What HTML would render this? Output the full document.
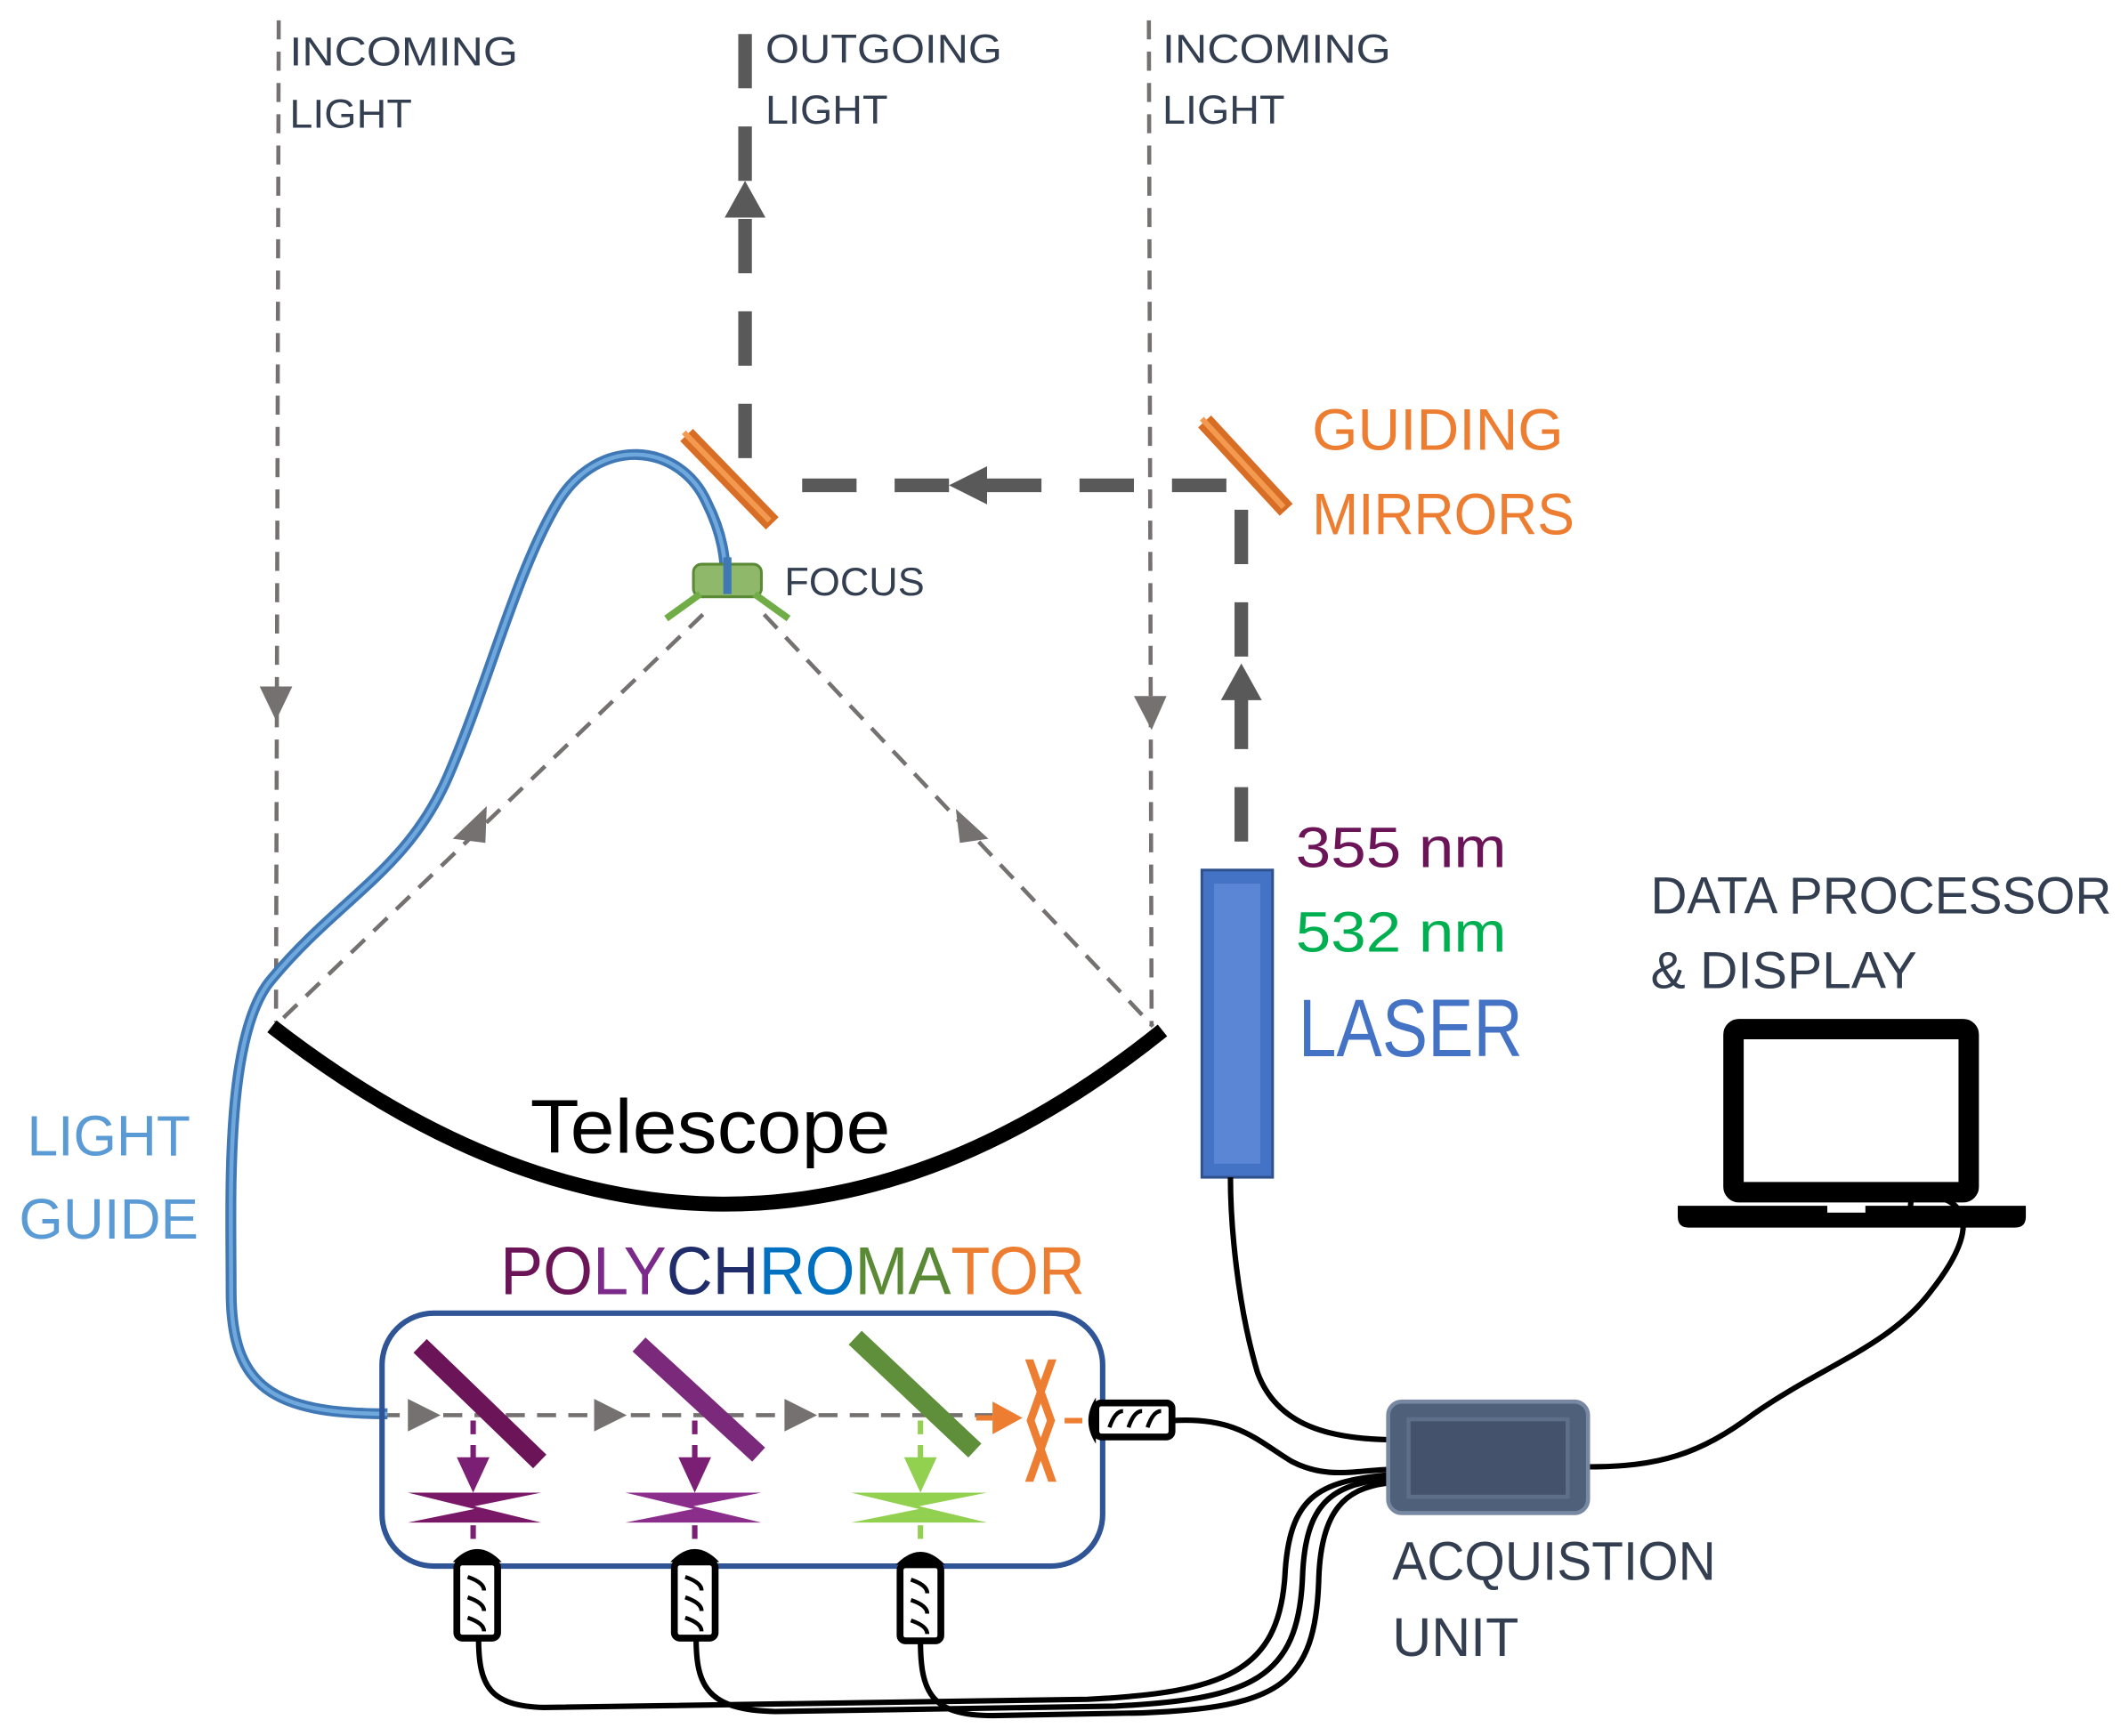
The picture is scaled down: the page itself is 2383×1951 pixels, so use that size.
<!DOCTYPE html>
<html><head><meta charset="utf-8"><style>html,body{margin:0;padding:0;background:#fff}svg{display:block}</style></head>
<body>
<svg width="2383" height="1951" viewBox="0 0 1560 1277" preserveAspectRatio="none" xmlns="http://www.w3.org/2000/svg" font-family="'Liberation Sans', sans-serif">
<!-- incoming lights -->
<g stroke="#767171" stroke-width="3" stroke-dasharray="14,9" fill="none">
<line x1="205" y1="15" x2="203" y2="752"/>
<line x1="845" y1="15" x2="847" y2="755"/>
<line x1="517" y1="452" x2="205" y2="752"/>
<line x1="562" y1="452" x2="848" y2="755"/>
<line x1="280" y1="1041" x2="730" y2="1041"/>
</g>
<g fill="#767171">
<polygon points="191,505 215,505 203,530"/>
<polygon points="834,512 858,512 847,537"/>
<polygon points="333,617 358,593 357,620"/>
<polygon points="703,595 727,617 706,620"/>
<polygon points="300,1029 300,1053 324,1041"/>
<polygon points="437,1029 437,1053 461,1041"/>
<polygon points="577,1029 577,1053 601,1041"/>
</g>
<!-- thick laser path -->
<g stroke="#595959" stroke-width="10" stroke-dasharray="40,28" fill="none">
<line x1="548" y1="25" x2="548" y2="355"/>
<line x1="590" y1="357" x2="905" y2="357"/>
<line x1="913" y1="375" x2="913" y2="640"/>
</g>
<g fill="#595959">
<polygon points="533,160 563,160 548,133"/>
<polygon points="698,357 726,343 726,371"/>
<polygon points="898,515 928,515 913,488"/>
</g>
<!-- mirrors -->
<g stroke="#d86e25" stroke-width="13" stroke-linecap="butt">
<line x1="505" y1="320" x2="568" y2="385"/>
<line x1="886" y1="310" x2="946" y2="375"/>
</g>
<g stroke="#f49a50" stroke-width="4"><line x1="503" y1="318" x2="566" y2="383"/><line x1="884" y1="308" x2="944" y2="373"/></g>
<!-- light guide -->
<path d="M285,1040 C200,1040 170,1020 170,950 C170,880 165,760 200,720 C250,660 300,640 330,570 C360,500 380,420 410,370 C440,320 500,325 520,370 C535,400 533,420 535,437" stroke="#3f78b5" stroke-width="8" fill="none"/>
<path d="M285,1040 C200,1040 170,1020 170,950 C170,880 165,760 200,720 C250,660 300,640 330,570 C360,500 380,420 410,370 C440,320 500,325 520,370 C535,400 533,420 535,437" stroke="#6fa8dc" stroke-width="3" fill="none"/>
<!-- focus lens -->
<rect x="510" y="415" width="50" height="24" rx="6" fill="#8fb86a" stroke="#5a8a35" stroke-width="2"/>
<line x1="535" y1="410" x2="535" y2="437" stroke="#3f78b5" stroke-width="6"/>
<g stroke="#70ad47" stroke-width="5"><line x1="490" y1="455" x2="515" y2="437"/><line x1="555" y1="437" x2="580" y2="455"/></g>
<!-- telescope -->
<path d="M200,755 Q535,1015 855,758" stroke="#000" stroke-width="11" fill="none"/>
<!-- laser -->
<rect x="884" y="640" width="52" height="226" fill="#4472c4" stroke="#2f528f" stroke-width="2"/>
<rect x="893" y="650" width="34" height="206" fill="#5b86d6"/>
<!-- polychromator box -->
<rect x="281" y="966" width="530" height="186" rx="38" fill="none" stroke="#2f5597" stroke-width="4"/>
<g stroke-width="14" stroke-linecap="butt">
<line x1="309" y1="990" x2="397" y2="1075" stroke="#6b1458"/>
<line x1="470" y1="989" x2="558" y2="1070" stroke="#7b2a7b"/>
<line x1="629" y1="984" x2="717" y2="1067" stroke="#5f8f3a"/>
</g>
<g stroke-width="4" stroke-dasharray="10,8">
<line x1="348" y1="1045" x2="348" y2="1075" stroke="#7a1f73"/>
<line x1="511" y1="1045" x2="511" y2="1075" stroke="#7a1f73"/>
<line x1="677" y1="1045" x2="677" y2="1075" stroke="#92d050"/>
<line x1="348" y1="1122" x2="348" y2="1140" stroke="#7a1f73"/>
<line x1="511" y1="1122" x2="511" y2="1140" stroke="#7a1f73"/>
<line x1="677" y1="1122" x2="677" y2="1140" stroke="#92d050"/>
</g>
<polygon points="336,1072 360,1072 348,1098" fill="#7a1f73"/>
<polygon points="499,1072 523,1072 511,1098" fill="#7a1f73"/>
<polygon points="665,1072 689,1072 677,1098" fill="#92d050"/>
<polygon points="300,1098 398,1098 349,1108 398,1120 300,1120 349,1110" fill="#7a1868"/>
<polygon points="460,1098 560,1098 510,1108 560,1120 460,1120 510,1110" fill="#8b2d8b"/>
<polygon points="626,1098 726,1098 676,1108 726,1120 626,1120 676,1110" fill="#92d050"/>
<line x1="718" y1="1043" x2="730" y2="1043" stroke="#ed7d31" stroke-width="4"/>
<polygon points="730,1031 730,1055 752,1043" fill="#ed7d31"/>
<polygon points="754,1000 760,1000 776,1045 760,1090 754,1090 770,1045" fill="#ed7d31"/>
<polygon points="777,1000 771,1000 755,1045 771,1090 777,1090 761,1045" fill="#ed7d31"/>
<line x1="783" y1="1045" x2="796" y2="1045" stroke="#ed7d31" stroke-width="4"/>
<!-- detectors -->
<g fill="#fff" stroke="#000" stroke-width="5">
<rect x="806" y="1032" width="56" height="25" rx="4"/>
<rect x="336" y="1149" width="30" height="56" rx="4"/>
<rect x="496" y="1149" width="30" height="56" rx="4"/>
<rect x="662" y="1151" width="30" height="56" rx="4"/>
</g>
<g fill="#000">
<path d="M806,1028 Q795,1045 806,1062 Z"/>
<path d="M333,1149 Q351,1130 369,1149 Z"/>
<path d="M493,1149 Q511,1130 529,1149 Z"/>
<path d="M659,1151 Q677,1132 695,1151 Z"/>
</g>
<g stroke="#000" stroke-width="3" fill="none">
<path d="M816,1050 q4,-12 10,-12 M830,1050 q4,-12 10,-12 M844,1050 q4,-12 10,-12"/>
<path d="M344,1160 q12,4 12,10 M344,1175 q12,4 12,10 M344,1190 q12,4 12,10"/>
<path d="M504,1160 q12,4 12,10 M504,1175 q12,4 12,10 M504,1190 q12,4 12,10"/>
<path d="M670,1162 q12,4 12,10 M670,1177 q12,4 12,10 M670,1192 q12,4 12,10"/>
</g>
<!-- cables -->
<g stroke="#000" stroke-width="4" fill="none">
<path d="M352,1205 C352,1240 360,1255 400,1256 L800,1250 C900,1245 940,1230 945,1160 C948,1100 970,1090 1020,1085"/>
<path d="M512,1205 C512,1240 520,1258 570,1259 L820,1255 C920,1250 955,1235 958,1160 C960,1105 980,1092 1020,1088"/>
<path d="M677,1207 C677,1245 685,1262 730,1262 L840,1260 C940,1256 968,1240 970,1160 C972,1110 990,1095 1020,1091"/>
<path d="M862,1045 C910,1042 925,1060 950,1075 C975,1088 995,1082 1020,1081"/>
<path d="M905,866 C905,900 910,960 925,1010 C940,1050 980,1058 1020,1059"/>
<path d="M1168,1079 C1220,1079 1250,1070 1290,1040 C1340,1005 1390,990 1420,950 C1450,912 1450,890 1430,882 C1410,875 1400,875 1408,902"/>
</g>
<!-- acquisition unit -->
<rect x="1021" y="1031" width="147" height="82" rx="10" fill="#4f607a" stroke="#7888a2" stroke-width="3"/>
<rect x="1036" y="1044" width="117" height="57" fill="#44536b" stroke="#5e6f8a" stroke-width="3"/>
<!-- laptop -->
<rect x="1275" y="757" width="173" height="120" rx="4" fill="none" stroke="#000" stroke-width="15"/>
<path d="M1234,887 L1490,887 L1490,895 Q1490,903 1482,903 L1242,903 Q1234,903 1234,895 Z" fill="#000"/>
<rect x="1344" y="885" width="28" height="7" fill="#fff"/>
<!-- texts -->
<g font-size="30" fill="#333f50" lengthAdjust="spacingAndGlyphs">
<text x="213" y="48" textLength="168" lengthAdjust="spacingAndGlyphs">INCOMING</text><text x="213" y="94" textLength="90" lengthAdjust="spacingAndGlyphs">LIGHT</text>
<text x="563" y="46" textLength="174" lengthAdjust="spacingAndGlyphs">OUTGOING</text><text x="563" y="91" textLength="90" lengthAdjust="spacingAndGlyphs">LIGHT</text>
<text x="855" y="46" textLength="168" lengthAdjust="spacingAndGlyphs">INCOMING</text><text x="855" y="91" textLength="90" lengthAdjust="spacingAndGlyphs">LIGHT</text>
<text x="577" y="438" font-size="29" textLength="103" lengthAdjust="spacingAndGlyphs">FOCUS</text>
</g>
<g font-size="43" fill="#ed7d31"><text x="965" y="331" textLength="185" lengthAdjust="spacingAndGlyphs">GUIDING</text><text x="965" y="393" textLength="193" lengthAdjust="spacingAndGlyphs">MIRRORS</text></g>
<g font-size="42" fill="#5b9bd5"><text x="20" y="850" textLength="120" lengthAdjust="spacingAndGlyphs">LIGHT</text><text x="14" y="911" textLength="132" lengthAdjust="spacingAndGlyphs">GUIDE</text></g>
<text x="390" y="848" font-size="56" fill="#000" textLength="265" lengthAdjust="spacingAndGlyphs">Telescope</text>
<text x="368" y="952" font-size="50" textLength="430" lengthAdjust="spacingAndGlyphs"><tspan fill="#6b1458">PO</tspan><tspan fill="#7b2a8b">LY</tspan><tspan fill="#1f2d6b">CH</tspan><tspan fill="#0070c0">RO</tspan><tspan fill="#5a8a35">MA</tspan><tspan fill="#ed7d31">TOR</tspan></text>
<text x="953" y="638" font-size="42" fill="#6b1458" textLength="155" lengthAdjust="spacingAndGlyphs">355 nm</text>
<text x="953" y="700" font-size="42" fill="#00b050" textLength="155" lengthAdjust="spacingAndGlyphs">532 nm</text>
<text x="955" y="777" font-size="60" fill="#4472c4" textLength="165" lengthAdjust="spacingAndGlyphs">LASER</text>
<g font-size="38" fill="#333f50"><text x="1214" y="672" textLength="339" lengthAdjust="spacingAndGlyphs">DATA PROCESSOR</text><text x="1214" y="727" textLength="196" lengthAdjust="spacingAndGlyphs">&amp; DISPLAY</text>
<text x="1024" y="1162" font-size="40" textLength="238" lengthAdjust="spacingAndGlyphs">ACQUISTION</text><text x="1024" y="1218" font-size="40" textLength="93" lengthAdjust="spacingAndGlyphs">UNIT</text></g>
</svg>
</body></html>
